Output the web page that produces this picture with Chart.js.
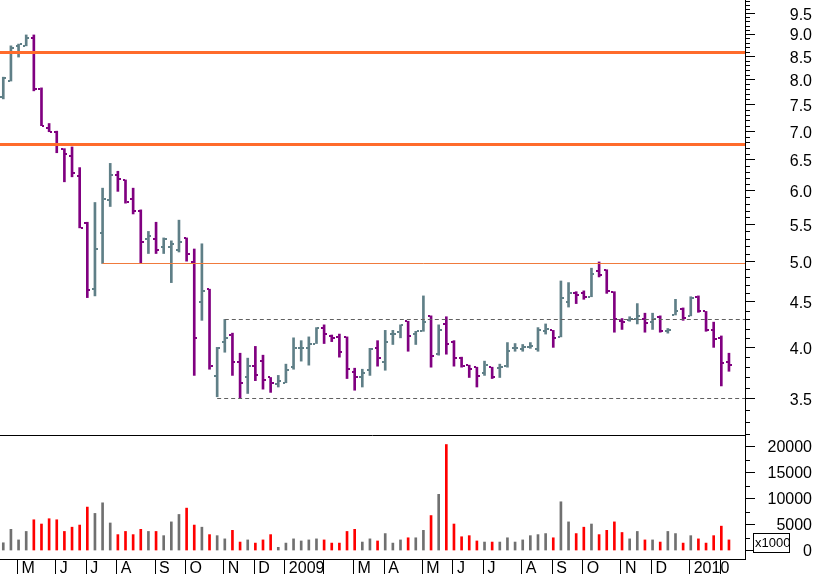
<!DOCTYPE html>
<html>
<head>
<meta charset="utf-8">
<script src="https://cdn.jsdelivr.net/npm/chart.js@4/dist/chart.umd.min.js"></script>
<style>
  body { margin: 0; background: #fff; overflow: hidden; }
  #wrap { position: relative; width: 817px; height: 574px; overflow: hidden; }
  canvas { position: absolute; left: 0; }
  #price { top: 0; }
  #volume { top: 436px; }
</style>
</head>
<body>
<div id="wrap">
  <canvas id="price" width="817" height="436"></canvas>
  <canvas id="volume" width="817" height="145"></canvas>
</div>
<script>
// weekly bars, late April 2008 -> January 2010
const opens = [7.65,7.98,8.73,8.73,8.91,7.81,7.05,6.99,6.69,6.57,6.24,5.52,4.65,5.38,5.86,6.25,6.17,5.87,5.70,5.29,5.30,5.18,5.18,5.15,5.31,4.99,4.50,4.65,3.71,4.06,4.13,3.85,3.70,3.81,3.86,3.70,3.64,3.65,3.80,3.99,3.99,4.04,4.21,4.12,4.11,4.11,3.75,3.70,3.77,3.99,3.85,4.14,4.16,4.28,4.14,4.17,4.34,3.93,4.25,4.06,3.89,3.82,3.80,3.74,3.80,3.79,3.81,3.99,3.98,4.00,3.98,4.17,4.18,4.11,4.50,4.60,4.60,4.56,4.87,4.89,4.62,4.28,4.29,4.30,4.31,4.27,4.33,4.17,4.35,4.42,4.34,4.56,4.39,4.18,4.10,3.85];
const highs = [8.05,8.73,8.77,8.98,8.98,7.83,7.14,7.00,6.69,6.72,6.37,5.53,5.82,6.04,6.44,6.31,6.17,6.04,5.71,5.40,5.53,5.31,5.27,5.56,5.31,5.16,5.23,4.65,4.00,4.30,4.15,3.94,3.89,4.01,3.92,3.70,3.72,3.83,4.10,4.07,4.11,4.21,4.24,4.13,4.14,4.11,3.79,3.78,3.99,4.07,4.18,4.18,4.24,4.28,4.17,4.57,4.34,4.24,4.33,4.07,3.90,3.82,3.80,3.86,3.80,3.83,4.05,4.04,4.03,4.05,4.21,4.25,4.18,4.75,4.73,4.62,4.63,4.91,4.99,4.89,4.62,4.31,4.33,4.48,4.37,4.37,4.34,4.20,4.53,4.43,4.56,4.57,4.39,4.27,4.12,3.94];
const lows = [7.61,7.97,8.48,8.73,7.77,7.10,6.99,6.62,6.14,6.22,5.45,4.55,4.57,4.97,5.76,5.99,5.81,5.65,4.98,5.10,5.10,5.10,4.73,5.12,5.00,3.72,4.29,3.78,3.52,3.95,3.72,3.51,3.55,3.67,3.59,3.56,3.61,3.65,3.78,3.86,3.82,4.04,4.04,4.06,3.90,3.69,3.58,3.61,3.72,3.81,3.77,4.03,4.10,3.96,4.03,4.17,3.80,3.92,3.93,3.81,3.80,3.70,3.61,3.72,3.69,3.70,3.80,3.96,3.96,3.99,3.96,4.14,4.00,4.11,4.44,4.48,4.53,4.56,4.80,4.60,4.16,4.19,4.28,4.25,4.16,4.19,4.16,4.15,4.35,4.29,4.34,4.38,4.17,4.00,3.62,3.76];
const closes = [8.03,8.68,8.77,8.91,7.81,7.10,6.99,6.77,6.59,6.28,5.45,4.64,5.16,5.88,6.25,6.18,5.82,5.70,5.25,5.34,5.15,5.29,5.23,5.26,5.10,4.10,4.63,3.81,3.99,4.10,3.85,3.65,3.81,3.72,3.68,3.65,3.67,3.77,3.99,3.99,4.04,4.21,4.14,4.10,3.95,3.78,3.70,3.74,3.98,3.89,4.06,4.14,4.24,4.12,4.17,4.27,3.91,4.18,4.03,3.89,3.81,3.78,3.71,3.82,3.70,3.80,3.96,3.99,4.00,4.01,4.18,4.19,4.10,4.55,4.60,4.58,4.56,4.84,4.83,4.63,4.30,4.27,4.30,4.34,4.26,4.30,4.17,4.18,4.40,4.32,4.55,4.40,4.18,4.09,3.84,3.82];
const volumes = [1490,4080,2040,3670,5920,5100,6120,5920,3670,4490,4900,8360,7140,9180,5300,3060,3670,3060,4080,3670,3670,2860,5510,6940,8160,4900,4490,3060,2860,2240,3880,1630,2040,1430,2040,3060,610,1430,2240,1840,2040,2240,2040,1430,1430,3670,4080,1630,2240,1840,3260,1430,2040,2450,2450,3880,6730,10810,20400,5100,2650,2860,1840,1630,1630,1630,2450,1630,2040,2860,3060,3260,2450,9380,5510,3260,4490,5100,3060,3880,5510,3470,2240,3670,2040,2040,1630,3670,3260,1430,2860,2240,1430,2860,4690,2040];

// month starts (bar index) and their labels
const monthStarts = [2,7,11,15,20,24,29,33,37,42,46,50,55,59,63,68,72,76,81,85,90,94];
const monthLabels = ["M","J","J","A","S","O","N","D","2009","","M","A","M","J","J","A","S","O","N","D","2010",""];

const priceTicks = [3.5,4.0,4.5,5.0,5.5,6.0,6.5,7.0,7.5,8.0,8.5,9.0,9.5];
const volumeTicks = [0,5000,10000,15000,20000];

// drawn levels
const resistance = [8.59, 6.77];
const supportLine = { value: 4.97, from: 13 };
const channelTop = { value: 4.30, from: 29 };
const channelBottom = { value: 3.51, from: 28 };

const UP = "#5f7f87", DOWN = "#800080";
const VOL_UP = "#707070", VOL_DOWN = "#ff0000";
const X_MIN = -0.43, X_MAX = 97.1;
const FONT = { family: "Liberation Sans, Arial, sans-serif", size: 16 };

const idx = opens.map((_, i) => i);
const isUp = idx.map(i => closes[i] >= opens[i]);

const fixY = (s) => { s.width = 67; s.paddingTop = 0; s.paddingBottom = 0; };

const ohlcTicks = {
  id: "ohlcTicks",
  afterDatasetsDraw(chart) {
    const { ctx, scales: { x, y }, chartArea } = chart;
    ctx.save();
    idx.forEach(i => {
      const px = Math.round(x.getPixelForValue(i));
      ctx.fillStyle = isUp[i] ? UP : DOWN;
      ctx.fillRect(px - 3, Math.round(y.getPixelForValue(opens[i])) - 1, 2, 2);
      ctx.fillRect(px + 1, Math.round(y.getPixelForValue(closes[i])) - 1, 2, 2);
    });
    // levels
    const right = chartArea.right;
    ctx.strokeStyle = "#ff6b2b";
    ctx.lineWidth = 3;
    resistance.forEach(v => {
      const py = Math.round(y.getPixelForValue(v)) + 0.5;
      ctx.beginPath(); ctx.moveTo(chartArea.left, py); ctx.lineTo(right, py); ctx.stroke();
    });
    ctx.lineWidth = 1;
    ctx.strokeStyle = "#f07a3c";
    let py = Math.round(y.getPixelForValue(supportLine.value)) + 0.5;
    ctx.beginPath(); ctx.moveTo(x.getPixelForValue(supportLine.from), py); ctx.lineTo(right, py); ctx.stroke();
    ctx.strokeStyle = "#606060";
    ctx.setLineDash([4, 3]);
    [channelTop, channelBottom].forEach(l => {
      const ly = Math.round(y.getPixelForValue(l.value)) + 0.5;
      ctx.beginPath(); ctx.moveTo(x.getPixelForValue(l.from), ly); ctx.lineTo(right, ly); ctx.stroke();
    });
    ctx.setLineDash([]);
    // panel bottom line
    ctx.strokeStyle = "#000";
    ctx.beginPath(); ctx.moveTo(0, chartArea.bottom - 0.5); ctx.lineTo(right, chartArea.bottom - 0.5); ctx.stroke();
    // minor price ticks
    for (let k = 32; k <= 98; k++) {
      if (k % 5 === 0) continue;
      const ty = Math.round(y.getPixelForValue(k / 10)) + 0.5;
      if (ty < chartArea.top || ty > chartArea.bottom) continue;
      ctx.beginPath(); ctx.moveTo(right, ty); ctx.lineTo(right + 5, ty); ctx.stroke();
    }
    ctx.restore();
  }
};

new Chart(document.getElementById("price"), {
  type: "bar",
  data: {
    datasets: [{
      data: idx.map(i => ({ x: i, y: [lows[i], highs[i]] })),
      backgroundColor: idx.map(i => isUp[i] ? UP : DOWN),
      barThickness: 2,
    }],
  },
  options: {
    responsive: false,
    animation: false,
    devicePixelRatio: 1,
    layout: { padding: { top: 0, bottom: 0, left: 0, right: 5 } },
    plugins: { legend: { display: false }, tooltip: { enabled: false } },
    scales: {
      x: { type: "linear", min: X_MIN, max: X_MAX, offset: false, display: false },
      y: {
        type: "logarithmic", position: "right", min: 3.18, max: 9.83,
        afterBuildTicks: (s) => { s.ticks = priceTicks.map(v => ({ value: v })); },
        afterFit: fixY,
        border: { display: true, color: "#000" },
        grid: { drawOnChartArea: false, tickLength: 10, color: "#000" },
        ticks: { color: "#000", font: FONT, padding: 4, labelOffset: 2, crossAlign: "far", callback: (v) => Number(v).toFixed(1) },
      },
    },
  },
  plugins: [ohlcTicks],
});

const volumeExtras = {
  id: "volumeExtras",
  afterDraw(chart) {
    const { ctx, scales: { x, y }, chartArea } = chart;
    ctx.save();
    ctx.strokeStyle = "#000";
    ctx.lineWidth = 1;
    monthStarts.forEach(m => {
      const px = Math.round(x.getPixelForValue(m - 0.2)) + 0.5;
      ctx.beginPath(); ctx.moveTo(px, chartArea.bottom); ctx.lineTo(px, chart.height); ctx.stroke();
    });
    [2500, 7500, 12500, 17500].forEach(v => {
      const ty = Math.round(y.getPixelForValue(v)) + 0.5;
      ctx.beginPath(); ctx.moveTo(chartArea.right, ty); ctx.lineTo(chartArea.right + 5, ty); ctx.stroke();
    });
    // x1000 box
    ctx.fillStyle = "#fff";
    ctx.fillRect(753.5, 97.5, 36, 19);
    ctx.strokeRect(753.5, 97.5, 36, 19);
    ctx.fillStyle = "#000";
    ctx.font = "13px Liberation Sans, Arial, sans-serif";
    ctx.textBaseline = "middle";
    ctx.fillText("x1000", 755, 107.5);
    ctx.restore();
  }
};

new Chart(document.getElementById("volume"), {
  type: "bar",
  data: {
    datasets: [{
      data: idx.map(i => ({ x: i, y: volumes[i] })),
      backgroundColor: idx.map(i => isUp[i] ? VOL_UP : VOL_DOWN),
      barThickness: 2,
    }],
  },
  options: {
    responsive: false,
    animation: false,
    devicePixelRatio: 1,
    layout: { padding: { top: 0, bottom: 0, left: 0, right: 5 } },
    plugins: { legend: { display: false }, tooltip: { enabled: false } },
    scales: {
      x: {
        type: "linear", min: X_MIN, max: X_MAX, offset: false,
        afterBuildTicks: (s) => { s.ticks = monthStarts.map(m => ({ value: m - 0.2 })); },
        afterFit: (s) => { s.height = 22; s.paddingLeft = 0; s.paddingRight = 0; },
        border: { display: true, color: "#000" },
        grid: { display: true, drawOnChartArea: false, drawTicks: false, tickLength: 0 },
        ticks: {
          color: "#000", font: FONT, padding: 0, align: "start", maxRotation: 0, autoSkip: false,
          callback: (v, i) => " " + monthLabels[i],
        },
      },
      y: {
        type: "linear", position: "right", min: -1633, max: 22041,
        afterBuildTicks: (s) => { s.ticks = volumeTicks.map(v => ({ value: v })); },
        afterFit: fixY,
        border: { display: true, color: "#000" },
        grid: { drawOnChartArea: false, tickLength: 10, color: "#000" },
        ticks: { color: "#000", font: FONT, padding: 4, labelOffset: 1, crossAlign: "far", callback: (v) => String(v) },
      },
    },
  },
  plugins: [volumeExtras],
});
</script>
</body>
</html>
